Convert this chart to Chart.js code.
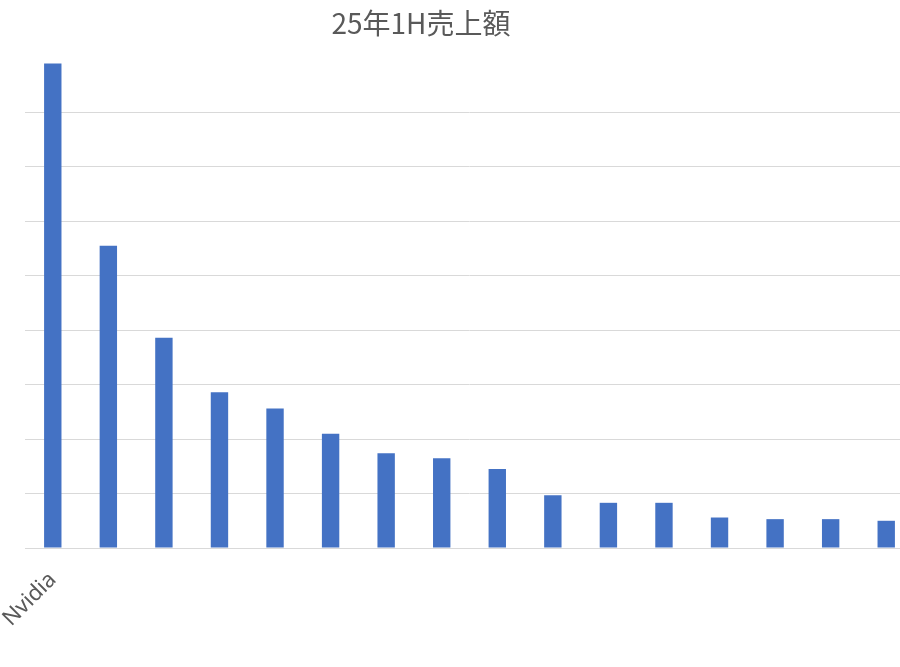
<!DOCTYPE html>
<html>
<head>
<meta charset="utf-8">
<script src="https://cdn.jsdelivr.net/npm/chart.js@4/dist/chart.umd.min.js"></script>
<style>
    html, body { margin: 0; padding: 0; background: #fff; overflow: hidden; }
    /* the source picture is cropped on the right, so the canvas runs past the window edge */
    #wrap { width: 914px; height: 667px; }
</style>
</head>
<body>
<div id="wrap"><canvas id="sales-chart"></canvas></div>
<script>
// 25年1H売上額 — only the first company name is legible in the source
const chartTitle = '25年1H売上額';
const companies = ['Nvidia', '', '', '', '', '', '', '', '', '', '', '', '', '', '', ''];
const sales = [89.0, 55.5, 38.6, 28.6, 25.6, 21.0, 17.4, 16.5, 14.5, 9.7, 8.3, 8.3, 5.6, 5.3, 5.3, 5.0];
const yTicks = [0, 10, 20, 30, 40, 50, 60, 70, 80, 90];

const gridColor = '#d9d9d9';
const textColor = '#595959';

// title is drawn a little left of centre, like the original
const titlePlugin = {
    id: 'offsetTitle',
    afterDraw(chart) {
        const ctx = chart.ctx;
        ctx.save();
        ctx.font = '28px "Noto Sans CJK JP", sans-serif';
        ctx.fillStyle = textColor;
        ctx.textAlign = 'center';
        ctx.textBaseline = 'middle';
        ctx.fillText(chartTitle, 421, 23);
        ctx.restore();
    }
};

const ctx = document.getElementById('sales-chart').getContext('2d');
new Chart(ctx, {
    type: 'bar',
    data: {
        labels: companies,
        datasets: [{
            label: chartTitle,
            data: sales,
            backgroundColor: '#4472c4',
            borderWidth: 0,
            barPercentage: 0.313,
            categoryPercentage: 1
        }]
    },
    options: {
        responsive: true,
        maintainAspectRatio: false,
        animation: false,
        layout: {
            padding: { top: 58, left: 25, right: 0, bottom: 0 }
        },
        plugins: {
            legend: { display: false },
            title: { display: false },
            tooltip: { enabled: false }
        },
        scales: {
            x: {
                grid: { display: false },
                border: { display: true, color: gridColor, width: 1 },
                ticks: {
                    color: textColor,
                    font: { family: '"Noto Sans", sans-serif', size: 22 },
                    minRotation: 45,
                    maxRotation: 45,
                    padding: 11,
                    autoSkip: false
                },
                afterFit(scale) {
                    scale.height = 119;
                    scale.paddingLeft = 0;
                    scale.paddingRight = 0;
                }
            },
            y: {
                min: 0,
                max: 90,
                afterBuildTicks(scale) { scale.ticks = yTicks.map(v => ({ value: v })); },
                ticks: { display: false },
                border: { display: false },
                grid: {
                    color: c => (c.tick && c.tick.value === 90) ? 'transparent' : gridColor,
                    lineWidth: 1,
                    drawTicks: false
                }
            }
        }
    },
    plugins: [titlePlugin]
});
</script>
</body>
</html>
